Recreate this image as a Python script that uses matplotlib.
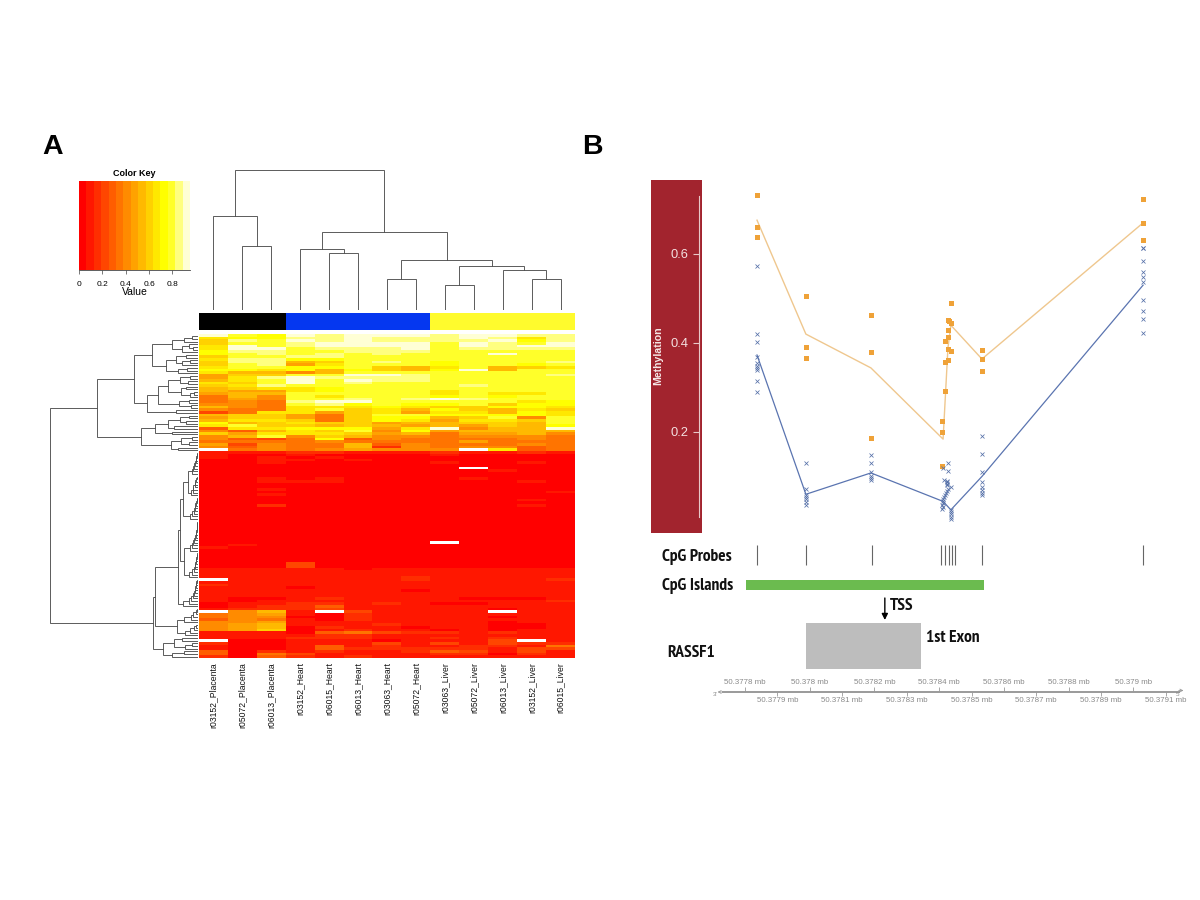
import numpy as np
import matplotlib
matplotlib.use("Agg")
import matplotlib.pyplot as plt
from matplotlib.colors import ListedColormap

plt.rcParams['font.family'] = ['Liberation Sans', 'DejaVu Sans']

W, H = 1200, 900

# colour levels 0..e of the heatmap, '.' is a missing cell
HEAT_COLORS = ['#FF0000', '#FF1700', '#FF2E00', '#FF4600', '#FF5D00', '#FF7400', '#FF8B00', '#FFA200',
               '#FFB900', '#FFD100', '#FFE800', '#FFFF00', '#FFFF2A', '#FFFF80', '#FFFFD5']
KEY_TICKS = [0, 0.2, 0.4, 0.6, 0.8]
KEY_MAX = 0.95

SAMPLES = ['r03152_Placenta', 'r05072_Placenta', 'r06013_Placenta', 'r03152_Heart', 'r06015_Heart',
           'r06013_Heart', 'r03063_Heart', 'r05072_Heart', 'r03063_Liver', 'r05072_Liver',
           'r06013_Liver', 'r03152_Liver', 'r06015_Liver']
SAMPLE_COLORS = ['#000000'] * 3 + ['#0537F0'] * 5 + ['#FFFB2D'] * 5

HEAT_UPPER = [
    'ecbedeeedeedd', 'abbddedddedad', '9dcededdddebd', '9ccdeeeecedce',
    'aecdeeeecedee', 'aeecdddecdddd', 'bddccdddccccc', 'bcdcdcdcccecc',
    '9ccddcccccccc', 'addbbcccccccc', '9dd89cdcbcccd', '9cd7acccbccbc',
    'accbbc98ac89a', 'bbab8b98be8cc', 'a8868cccccccc', '799cceedccccd',
    '7adeddddccccc', '8aceceddccccc', 'a9cecdccccccc', '9adccccccdccc',
    '89aabcccccccc', '877abcccacccc', '788cccccacaac', '586cacccbcbcc',
    '576ccdcdedccc', '565deecccccab', '665cdbcbbc9bb', '865aaaba99bba',
    '655ac9a8b98a9', '35aa79a7aa8ba', '899759ccbbbba', '799759bb89c6c',
    '8aa959ba7aa9c', 'b89a99788998c', 'ac9989878798b', '4aabbb7ae688e',
    '648a9c6b78888', '97aaa97857786', '68c6986656665', '6435b46555565',
    '5555655557555', '7365584655565', '6465582656645', '.56567666.a45',
]
HEAT_LOWER = [
    '1112211121121', '1001000010000', '1010100000000', '0011010000000',
    '0010000010010', '0000000000000', '000000000.000', '0000000000100',
    '0000000000000', '0000000000000', '0010100001000', '0011100000010',
    '0000000000000', '0000000000000', '0010000000000', '0000000000001',
    '0010000000000', '0000000000000', '0000000000010', '0000000000000',
    '0020000000010', '0000000000000', '0000000000000', '0000000000000',
    '0000000000000', '0000000000000', '0000000000000', '0000000000000',
    '0000000000000', '0000000000000', '0000000000000', '0000000000000',
    '0000000000000', '0000000000000', '00000000.0000', '0100000000000',
    '1000000000000', '0000000000000', '0000000000000', '0000000000000',
    '0000000000000', '0000000000000', '0003000000000', '0003000000000',
    '1111101111111', '1111111111111', '1111111111111', '1111111211111',
    '.111111211112', '1111111111111', '2111111111111', '1110111111111',
    '1111111011111', '1111111111111', '1111111111111', '1001211110001',
    '1011111111112', '0112212100111', '0122411111111', '1222311111011',
    '.681.31111.11', '5671021111111', '5660021111011', '4651021111111',
    '6671111111011', '6781112111001', '6780211011001', '6790121101011',
    '1110453221211', '1111221111111', '1112221121211', '.0011101113.1',
    '2001113131322', '1001412112215', '1001422222133', '4021211243131',
    '4053111122021', '2042121111111',
]

# leaf order comes from walking the trees, 0 is a leaf, (height, left, right) a merge
COL_TREE = (140,
            (94, 0, (64, 0, 0)),
            (78,
             (61, 0, (57, 0, 0)),
             (50, (31, 0, 0), (44, (25, 0, 0), (40, 0, (31, 0, 0))))))


def comb(heights):
    node = 0
    for h in heights[::-1]:
        node = (h, node, 0)
    return node


ROW_A1 = (46,
          (26, (14, (6, 0, 0), 0), (16, (9, 0, (5, 0, 0)), 0)),
          (32, (22, (12, 0, 0), (16, (8, 0, 0), 0)), (20, (11, 0, 0), 0)))
ROW_A2 = (51,
          (40,
           (30, (18, (8, 0, 0), (10, 0, 0)), (17, (12, 0, 0), (8, (4, 0, 0), 0))),
           (19, (9, 0, 0), (7, 0, 0))),
          (22, 0, 0))
ROW_B = (57,
         (43, (30, (18, (9, 0, 0), (12, 0, 0)), (24, 0, 0)), (26, 0, 0)),
         (27, (17, (6, 0, 0), (9, 0, 0)), (20, 0, 0)))
ROW_TOP = (101, (64, ROW_A1, ROW_A2), ROW_B)
ROW_G1 = (15, (10, comb([6, 5, 4, 3, 2, 2, 1, 1]), comb([7, 5, 5, 3, 3, 2, 1])),
          comb([8, 6, 4, 3, 3, 2, 1, 1]))
ROW_G2 = (14, comb([8, 6, 5, 4, 3, 2, 2, 1, 1, 1, 1]), comb([9, 6, 4, 3, 3, 2, 2, 1, 1]))
ROW_G3 = comb([15, 9, 7, 5, 4, 3, 3, 2, 2, 1])
ROW_G4 = (21, comb([14, 7, 5, 2, 1]), comb([13, 8, 4, 2]))
ROW_G5 = (35, (24, (16, 0, 0), (13, (6, 0, 0), 0)), (26, (14, 0, 0), 0))
ROW_LOW = (45, (43, (20, (18, ROW_G1, ROW_G2), ROW_G3), ROW_G4), ROW_G5)
ROW_TREE = (148, ROW_TOP, ROW_LOW)

# panel B, positions in mb and methylation fraction
PROBE_MB = [50.377836, 50.377988, 50.378191, 50.378407, 50.378418, 50.378429, 50.378439, 50.37845,
            50.378531, 50.37903]
ORANGE_LINE_X = [50.377837, 50.377988, 50.378189, 50.378412, 50.378427, 50.378436, 50.378532, 50.37903]
ORANGE_LINE_Y = [0.676, 0.42, 0.344, 0.184, 0.389, 0.44, 0.364, 0.67]
BLUE_LINE_X = [50.377837, 50.377988, 50.378189, 50.378412, 50.378436, 50.378532, 50.37903]
BLUE_LINE_Y = [0.373, 0.06, 0.108, 0.044, 0.025, 0.1, 0.53]
ORANGE_X = [50.377837] * 3 + [50.377988] * 3 + [50.378189] * 3 + [
    50.378436, 50.378427, 50.37843, 50.378436, 50.378427, 50.378428, 50.378418, 50.378427, 50.378436,
    50.378428, 50.378417, 50.378418, 50.37841, 50.37841, 50.37841] + [50.378532] * 3 + [50.37903] * 3
ORANGE_Y = [0.732, 0.661, 0.6375, 0.505, 0.391, 0.366, 0.463, 0.38, 0.186,
            0.49, 0.452, 0.45, 0.444, 0.429, 0.413, 0.405, 0.386, 0.381,
            0.362, 0.358, 0.292, 0.224, 0.2, 0.123, 0.384, 0.364, 0.337, 0.723, 0.67, 0.631]
BLUE_X = [50.377837] * 10 + [50.377988] * 7 + [50.378189] * 6 + [
    50.378427, 50.378413, 50.378427, 50.378415, 50.378425, 50.378425, 50.378425, 50.378425, 50.378436,
    50.378426, 50.378423, 50.378421, 50.378418, 50.378415, 50.378413, 50.378411, 50.378413, 50.37841,
    50.378413, 50.37841, 50.378436, 50.378436, 50.378436, 50.378436, 50.378436] + [50.378532] * 8 + [50.37903] * 10
BLUE_Y = [0.573, 0.42, 0.402, 0.369, 0.356, 0.348, 0.343, 0.339, 0.315, 0.29,
          0.13, 0.071, 0.058, 0.055, 0.049, 0.043, 0.036,
          0.148, 0.13, 0.11, 0.1, 0.097, 0.092,
          0.131, 0.12, 0.113, 0.092, 0.09, 0.087, 0.083, 0.08, 0.076,
          0.073, 0.068, 0.062, 0.058, 0.053, 0.049, 0.045, 0.041, 0.036, 0.032, 0.026,
          0.025, 0.02, 0.015, 0.01, 0.005,
          0.192, 0.15, 0.109, 0.087, 0.076, 0.07, 0.064, 0.058,
          0.613, 0.613, 0.584, 0.56, 0.549, 0.538, 0.497, 0.472, 0.455, 0.422]
METH_TICKS = [0.2, 0.4, 0.6]
ISLAND_MB = (50.377803, 50.378538)
EXON_MB = (50.377988, 50.378343)
TSS_MB = 50.378232
UPPER_MB = [50.3778, 50.378, 50.3782, 50.3784, 50.3786, 50.3788, 50.379]
LOWER_MB = [50.3779, 50.3781, 50.3783, 50.3785, 50.3787, 50.3789, 50.3791]
UPPER_LABELS = ['50.3778 mb', '50.378 mb', '50.3782 mb', '50.3784 mb', '50.3786 mb', '50.3788 mb', '50.379 mb']
LOWER_LABELS = ['50.3779 mb', '50.3781 mb', '50.3783 mb', '50.3785 mb', '50.3787 mb', '50.3789 mb', '50.3791 mb']
GENOME_MB = (50.37773, 50.37914)
XLIM_MB = (50.377667, 50.379175)
YLIM_METH = (-0.0270, 0.7663)


def add_axes(x0, y0, x1, y1):
    # box given in image pixels, y going down
    return fig.add_axes([x0 / W, 1 - y1 / H, (x1 - x0) / W, (y1 - y0) / H])


def px_text(x, y, s, **kw):
    return fig.text(x / W, 1 - y / H, s, **kw)


def draw_tree(ax, node, leaf, horizontal=False, color='#505050', lw=0.65):
    # returns (position, height) of the node
    if node == 0:
        leaf[0] += 1
        return leaf[0] - 0.5, 0
    h, left, right = node
    p1, h1 = draw_tree(ax, left, leaf, horizontal, color, lw)
    p2, h2 = draw_tree(ax, right, leaf, horizontal, color, lw)
    if horizontal:
        ax.plot([h1, h, h, h2], [p1, p1, p2, p2], color=color, lw=lw, solid_joinstyle='miter')
    else:
        ax.plot([p1, p1, p2, p2], [h1, h, h, h2], color=color, lw=lw, solid_joinstyle='miter')
    return (p1 + p2) / 2, h


fig = plt.figure(figsize=(W / 100, H / 100), dpi=100, facecolor='white')

px_text(53, 147, 'A', fontsize=20.5, fontweight='bold', ha='center', va='center', color='black')
px_text(592, 147, 'B', fontsize=20.5, fontweight='bold', ha='center', va='center', color='black')

# colour key
ax_key = add_axes(79, 181, 190, 270)
key_edges = np.linspace(0, KEY_MAX, len(HEAT_COLORS) + 1)
for i, c in enumerate(HEAT_COLORS):
    ax_key.bar(key_edges[i], 1, key_edges[i + 1] - key_edges[i], align='edge', color=c, lw=0)
ax_key.set_xlim(0, KEY_MAX)
ax_key.set_ylim(0, 1)
ax_key.set_yticks([])
ax_key.set_xticks(KEY_TICKS)
ax_key.set_xticklabels(['0', '0.2', '0.4', '0.6', '0.8'], fontsize=6)
ax_key.tick_params(axis='x', length=3, width=0.5, pad=5, color='#444444')
for s in ['top', 'left', 'right']:
    ax_key.spines[s].set_visible(False)
ax_key.spines['bottom'].set_linewidth(0.6)
ax_key.spines['bottom'].set_color('#444444')
ax_key.set_xlabel('Value', fontsize=7.5, labelpad=-1)
ax_key.set_title('Color Key', fontsize=6.5, fontweight='bold', pad=3.5)

# column dendrogram
ax_top = add_axes(199, 168, 575, 310)
draw_tree(ax_top, COL_TREE, [0])
ax_top.set_xlim(0, len(SAMPLES))
ax_top.set_ylim(0, 142)
ax_top.axis('off')

# row dendrogram
ax_left = add_axes(48, 335, 198, 658)
n_rows = len(HEAT_UPPER) + len(HEAT_LOWER)
draw_tree(ax_left, ROW_TREE, [0], horizontal=True)
ax_left.set_xlim(150, 0)
ax_left.set_ylim(n_rows, 0)
ax_left.axis('off')

# sample colour strip
ax_strip = add_axes(199, 313, 575, 330)
ax_strip.bar(range(len(SAMPLES)), 1, 1, align='edge', color=SAMPLE_COLORS, lw=0)
ax_strip.set_xlim(0, len(SAMPLES))
ax_strip.set_ylim(0, 1)
ax_strip.axis('off')

# heatmap
ax_heat = add_axes(199, 334, 575, 658)
levels = '0123456789abcde'
matrix = np.array([[levels.index(c) if c in levels else np.nan for c in row]
                   for row in HEAT_UPPER + HEAT_LOWER], dtype=float)
cmap = ListedColormap(HEAT_COLORS)
cmap.set_bad('#FFFFFF')
ax_heat.imshow(matrix, cmap=cmap, vmin=-0.5, vmax=14.5, aspect='auto', interpolation='nearest')
ax_heat.set_xticks(range(len(SAMPLES)))
ax_heat.set_xticklabels(SAMPLES, rotation=90, fontsize=6.2, color='#111111')
ax_heat.tick_params(axis='x', length=0, pad=3)
ax_heat.set_yticks([])
for s in ax_heat.spines.values():
    s.set_visible(False)

# methylation panel
ax_red = add_axes(651, 180, 702, 533)
ax_red.set_facecolor('#A2242E')
ax_red.set_xlim(0, 1)
ax_red.set_xticks([])
ax_red.set_ylim(*YLIM_METH)
ax_red.yaxis.tick_right()
ax_red.set_yticks(METH_TICKS)
ax_red.set_yticklabels(['0.2', '0.4', '0.6'], color='#F3E0E0', fontsize=9.3, ha='right')
ax_red.tick_params(axis='y', length=0, pad=-10)
for s in ax_red.spines.values():
    s.set_visible(False)
ax_red.plot([0.94, 0.94], [0.01, 0.73], color='#E8C8C8', lw=0.8)
ax_red.hlines(METH_TICKS, 0.82, 0.94, color='#E8C8C8', lw=0.8)
ax_red.text(0.14, 0.371, 'Methylation', color='#F5E6E6', fontsize=7.6, fontweight='bold', rotation=90,
            ha='center', va='center')

ax_meth = add_axes(702, 180, 1190, 533)
ax_meth.plot(ORANGE_LINE_X, ORANGE_LINE_Y, color='#EFC78E', lw=1.0)
ax_meth.plot(BLUE_LINE_X, BLUE_LINE_Y, color='#5A74B0', lw=0.9)
ax_meth.plot(ORANGE_X, ORANGE_Y, ls='none', marker='s', ms=3.6, mfc='#EFA238', mec='#EFA238', mew=0)
ax_meth.plot(BLUE_X, BLUE_Y, ls='none', marker='x', ms=3.2, mew=0.55, color='#5570A8')
ax_meth.set_xlim(*XLIM_MB)
ax_meth.set_ylim(*YLIM_METH)
ax_meth.axis('off')

# annotation tracks, y in image pixels
ax_trk = add_axes(702, 535, 1190, 715)
ax_trk.set_xlim(*XLIM_MB)
ax_trk.set_ylim(715, 535)
ax_trk.axis('off')
ax_trk.vlines(PROBE_MB, 544.5, 564.5, color='#666666', lw=0.8)
ax_trk.fill_between(ISLAND_MB, 580, 590, color='#6BBB4F', lw=0)
ax_trk.fill_between(EXON_MB, 623, 668.5, color='#BDBDBD', lw=0)
ax_trk.annotate('', xy=(TSS_MB, 620), xytext=(TSS_MB, 598),
                arrowprops=dict(arrowstyle='-|>', color='black', lw=1, mutation_scale=9, shrinkA=0, shrinkB=0))
ax_trk.plot(GENOME_MB, [690.5, 690.5], color='#999999', lw=0.7)
ax_trk.plot(GENOME_MB, [692, 692], color='#999999', lw=0.7)
ax_trk.annotate('', xy=(GENOME_MB[1] + 0.000015, 690.5), xytext=(GENOME_MB[1], 690.5),
                arrowprops=dict(arrowstyle='->', color='#999999', lw=0.6, mutation_scale=5, shrinkA=0, shrinkB=0))
ax_trk.annotate('', xy=(GENOME_MB[0] - 0.000015, 692), xytext=(GENOME_MB[0], 692),
                arrowprops=dict(arrowstyle='->', color='#999999', lw=0.6, mutation_scale=5, shrinkA=0, shrinkB=0))
ax_trk.vlines(UPPER_MB, 687, 690.5, color='#999999', lw=0.6)
ax_trk.vlines(LOWER_MB, 692, 696, color='#999999', lw=0.6)
for mb, lab in zip(UPPER_MB, UPPER_LABELS):
    ax_trk.text(mb, 683, lab, fontsize=5.7, color='#8A8A8A', ha='center', va='center')
for mb, lab in zip(LOWER_MB, LOWER_LABELS):
    ax_trk.text(mb, 700, lab, fontsize=5.7, color='#8A8A8A', ha='center', va='center')

px_text(715, 695, "3'", fontsize=4.5, color='#8A8A8A', ha='center', va='center')
px_text(1178, 695, "5'", fontsize=4.5, color='#8A8A8A', ha='center', va='center')

narrow = ['PT Sans Narrow', 'Liberation Sans']
for x, y, s in [(662, 557, 'CpG Probes'), (662, 586, 'CpG Islands'), (890, 606, 'TSS'),
                (926.5, 638.5, '1st Exon'), (667.5, 653, 'RASSF1')]:
    px_text(x, y, s, fontsize=12.5, fontweight='bold', family=narrow, ha='left', va='center', color='#111111')

fig.savefig('out.png', dpi=100, facecolor='white')
